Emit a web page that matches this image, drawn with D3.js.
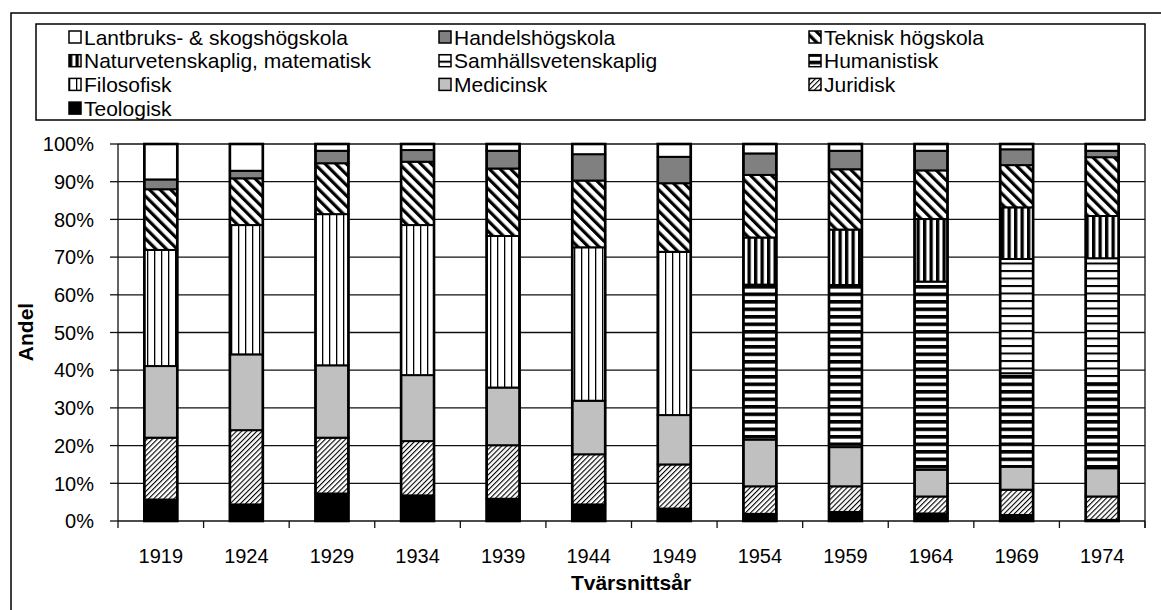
<!DOCTYPE html>
<html>
<head>
<meta charset="utf-8">
<script src="https://cdn.jsdelivr.net/npm/d3@7"></script>
<style>
  body { margin: 0; background: #fff; }
  text { font-family: "Liberation Sans", Arial, sans-serif; fill: #000; }
</style>
</head>
<body>
<svg id="chart" width="1161" height="610"></svg>
<script>
// Data: share per faculty (percent)
const years = ["1919", "1924", "1929", "1934", "1939", "1944", "1949", "1954", "1959", "1964", "1969", "1974"];

const teologisk   = [5.7, 4.4, 7.3, 6.8, 5.9, 4.4, 3.3, 1.9, 2.4, 2.0, 1.6, 0.3];
const juridisk    = [16.4, 19.7, 14.8, 14.4, 14.2, 13.3, 11.7, 7.3, 6.8, 4.5, 6.7, 6.2];
const medicinsk   = [19.0, 20.1, 19.2, 17.5, 15.3, 14.2, 13.1, 12.4, 10.4, 7.1, 6.1, 7.5];
const filosofisk  = [30.8, 34.3, 40.1, 39.8, 40.2, 40.7, 43.3, 0, 0, 0, 0, 0];
const humanistisk = [0, 0, 0, 0, 0, 0, 0, 41.1, 43.0, 49.9, 24.8, 22.5];
const samhalls    = [0, 0, 0, 0, 0, 0, 0, 0, 0, 0, 30.3, 33.2];
const naturvet    = [0, 0, 0, 0, 0, 0, 0, 12.5, 14.7, 16.6, 13.7, 11.2];
const teknisk     = [16.1, 12.4, 13.5, 16.8, 17.9, 17.7, 18.2, 16.6, 16.0, 12.9, 11.2, 15.6];
const handels     = [2.6, 2.0, 3.3, 3.1, 4.7, 7.0, 7.0, 5.7, 4.9, 5.2, 4.2, 1.7];
const lantbruk    = [9.4, 7.1, 1.8, 1.6, 1.8, 2.7, 3.4, 2.5, 1.8, 1.8, 1.4, 1.8];

const yTicks = [0, 0.1, 0.2, 0.3, 0.4, 0.5, 0.6, 0.7, 0.8, 0.9, 1.0];

// stack order, bottom to top
const series = [
  { name: "Teologisk", values: teologisk, fill: "#000" },
  { name: "Juridisk", values: juridisk, fill: "url(#pat-jur)" },
  { name: "Medicinsk", values: medicinsk, fill: "#c0c0c0" },
  { name: "Filosofisk", values: filosofisk, fill: "url(#pat-fil)" },
  { name: "Humanistisk", values: humanistisk, fill: "url(#pat-hum)" },
  { name: "Samhällsvetenskaplig", values: samhalls, fill: "url(#pat-sam)" },
  { name: "Naturvetenskaplig, matematisk", values: naturvet, fill: "url(#pat-nat)" },
  { name: "Teknisk högskola", values: teknisk, fill: "url(#pat-tek)" },
  { name: "Handelshögskola", values: handels, fill: "#808080" },
  { name: "Lantbruks- & skogshögskola", values: lantbruk, fill: "#fff" }
];

const table = years.map((yr, i) => {
  const row = { year: yr };
  series.forEach(s => { row[s.name] = s.values[i] / 100; });
  return row;
});

const svg = d3.select("#chart");

// Patterns (Excel-like line fills)
const defs = svg.append("defs");
function linePattern(id, period, lineW, dir, angle) {
  const p = defs.append("pattern")
    .attr("id", id)
    .attr("patternUnits", "userSpaceOnUse")
    .attr("width", period)
    .attr("height", period);
  if (angle) p.attr("patternTransform", `rotate(${angle})`);
  p.append("rect").attr("width", period).attr("height", period).attr("fill", "#fff");
  if (dir === "v") {
    p.append("rect").attr("x", 0).attr("y", 0).attr("width", lineW).attr("height", period).attr("fill", "#000");
  } else {
    p.append("rect").attr("x", 0).attr("y", 0).attr("width", period).attr("height", lineW).attr("fill", "#000");
  }
}
linePattern("pat-jur", 3.6, 1.1, "v", 45);
linePattern("pat-tek", 7.5, 3.2, "v", -45);
linePattern("pat-fil", 7, 1.3, "v", 0);
linePattern("pat-nat", 6.5, 3.3, "v", 0);
linePattern("pat-hum", 7.5, 3.6, "h", 0);
linePattern("pat-sam", 7.5, 2, "h", 0);

// Outer frame (only top/left visible)
svg.append("rect")
  .attr("x", 11).attr("y", 13)
  .attr("width", 1170).attr("height", 620)
  .attr("fill", "none").attr("stroke", "#000").attr("stroke-width", 1.5);

// Scales
const x = d3.scaleBand().domain(years).range([118, 1145]).padding(0);
const y = d3.scaleLinear().domain([0, 1]).range([521, 144]);
const barW = x.bandwidth() * 0.385;

// Gridlines
svg.append("g").selectAll("line")
  .data(yTicks)
  .enter().append("line")
  .attr("x1", 118).attr("x2", 1145)
  .attr("y1", d => y(d)).attr("y2", d => y(d))
  .attr("stroke", "#111").attr("stroke-width", 1.3);

// right border of plot area
svg.append("line")
  .attr("x1", 1145).attr("x2", 1145)
  .attr("y1", y(1)).attr("y2", y(0) + 7)
  .attr("stroke", "#111").attr("stroke-width", 1.3);

// Bars
const stacked = d3.stack().keys(series.map(s => s.name))(table);
const barG = svg.append("g");
stacked.forEach((layer, li) => {
  barG.append("g")
    .selectAll("rect")
    .data(layer.filter(d => d[1] - d[0] > 0.0001))
    .enter().append("rect")
    .attr("x", d => x(d.data.year) + (x.bandwidth() - barW) / 2)
    .attr("y", d => y(d[1]))
    .attr("width", barW)
    .attr("height", d => y(d[0]) - y(d[1]))
    .attr("fill", series[li].fill)
    .attr("stroke", "#000")
    .attr("stroke-width", 2);
});
// bar outlines
barG.append("g").selectAll("rect")
  .data(table)
  .enter().append("rect")
  .attr("x", d => x(d.year) + (x.bandwidth() - barW) / 2)
  .attr("y", y(1))
  .attr("width", barW)
  .attr("height", y(0) - y(1))
  .attr("fill", "none")
  .attr("stroke", "#000")
  .attr("stroke-width", 2.6);

// Y axis
svg.append("line")
  .attr("x1", 118).attr("x2", 118)
  .attr("y1", y(1)).attr("y2", y(0))
  .attr("stroke", "#111").attr("stroke-width", 1.3);
svg.append("g").selectAll("line")
  .data(yTicks)
  .enter().append("line")
  .attr("x1", 110).attr("x2", 118)
  .attr("y1", d => y(d)).attr("y2", d => y(d))
  .attr("stroke", "#111").attr("stroke-width", 1.3);
svg.append("g").selectAll("text")
  .data(yTicks)
  .enter().append("text")
  .attr("x", 94)
  .attr("y", d => y(d))
  .attr("dy", "0.36em")
  .attr("text-anchor", "end")
  .style("font-size", "20px")
  .text(d3.format(".0%"));

// X axis ticks at category boundaries
const boundaries = years.map(d => x(d)).concat([x.range()[1]]);
svg.append("g").selectAll("line")
  .data(boundaries)
  .enter().append("line")
  .attr("x1", d => d).attr("x2", d => d)
  .attr("y1", y(0)).attr("y2", y(0) + 7)
  .attr("stroke", "#111").attr("stroke-width", 1.3);
svg.append("g").selectAll("text")
  .data(years)
  .enter().append("text")
  .attr("x", d => x(d) + x.bandwidth() / 2)
  .attr("y", 563)
  .attr("text-anchor", "middle")
  .style("font-size", "20px")
  .text(d => d);

// Axis titles
svg.append("text")
  .attr("x", 631).attr("y", 590)
  .attr("text-anchor", "middle")
  .style("font-size", "21px").style("font-weight", "bold")
  .text("Tvärsnittsår");
svg.append("text")
  .attr("transform", "translate(33,332) rotate(-90)")
  .attr("text-anchor", "middle")
  .style("font-size", "21px").style("font-weight", "bold")
  .text("Andel");

// Legend
svg.append("rect")
  .attr("x", 36).attr("y", 24)
  .attr("width", 1109).attr("height", 96)
  .attr("fill", "#fff").attr("stroke", "#000").attr("stroke-width", 1.5);

const legendItems = series.slice().reverse();
const leg = svg.append("g").selectAll("g")
  .data(legendItems)
  .enter().append("g")
  .attr("transform", (d, i) => `translate(${69 + (i % 3) * 370},${37 + Math.floor(i / 3) * 23.7})`);
leg.append("rect")
  .attr("x", 0).attr("y", -6)
  .attr("width", 12).attr("height", 12)
  .attr("fill", d => d.fill)
  .attr("stroke", "#000").attr("stroke-width", 1.5);
leg.append("text")
  .attr("x", 15)
  .attr("y", 0)
  .attr("dy", "0.36em")
  .style("font-size", "21px")
  .text(d => d.name);
</script>
</body>
</html>
